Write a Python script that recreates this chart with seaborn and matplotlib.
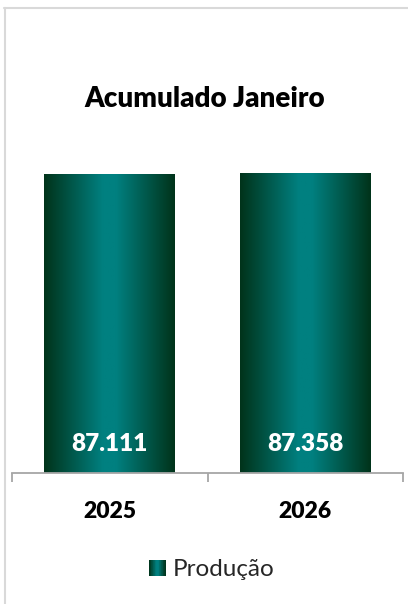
import numpy as np
import pandas as pd
import matplotlib
matplotlib.use("Agg")
import matplotlib.pyplot as plt
from matplotlib.colors import LinearSegmentedColormap
from matplotlib.legend_handler import HandlerBase
from matplotlib.patches import Rectangle
from matplotlib.lines import Line2D
import seaborn as sns

# dados do gráfico
anos = ["2025", "2026"]
producao = [87111, 87358]
rotulos = ["87.111", "87.358"]
titulo = "Acumulado Janeiro"
serie = "Produção"

BORDA = "#00331a"
CENTRO = "#008080"
grad = LinearSegmentedColormap.from_list(
    "barra", [(0.0, BORDA), (0.45, CENTRO), (0.55, CENTRO), (1.0, BORDA)])


class GradientHandler(HandlerBase):
    """Quadradinho da legenda com o mesmo degradê das barras"""

    def create_artists(self, legend, orig_handle, xdescent, ydescent,
                       width, height, fontsize, trans):
        n = 24
        arts = []
        for i in range(n):
            r = Rectangle((-xdescent + i * width / n, -ydescent), width / n * 1.05, height,
                          facecolor=grad((i + 0.5) / n), edgecolor="none",
                          transform=trans)
            arts.append(r)
        return arts


sns.set_theme(style="white")
plt.rcParams["font.family"] = ["Lato", "DejaVu Sans"]

W, H = 408, 604
fig = plt.figure(figsize=(W / 100, H / 100), dpi=100)
ax = fig.add_axes([12 / W, 1 - 473 / H, (403 - 12) / W, (473 - 130) / H])

df = pd.DataFrame({"ano": anos, "producao": producao})
sns.barplot(data=df, x="ano", y="producao", ax=ax, width=0.67,
            color=CENTRO, saturation=1)

# degradê horizontal em cada barra
gradiente = np.linspace(0, 1, 256).reshape(1, -1)
for p in list(ax.patches):
    x0, y0 = p.get_x(), p.get_y()
    w, h = p.get_width(), p.get_height()
    im = ax.imshow(gradiente, cmap=grad, aspect="auto",
                   extent=[x0, x0 + w, y0, y0 + h],
                   zorder=p.get_zorder(), interpolation="bilinear")
    im.set_clip_path(p)
    p.set_facecolor("none")
    p.set_edgecolor("none")

ax.set_xlim(-0.5, 1.5)
ax.set_ylim(0, 100000)

for i, txt in enumerate(rotulos):
    ax.text(i, 6400, txt, ha="center", va="baseline", color="white",
            fontsize=17.5, fontweight="heavy", zorder=5)

for s in ["top", "left", "right"]:
    ax.spines[s].set_visible(False)
ax.spines["bottom"].set_color("#a6a6a6")
ax.spines["bottom"].set_linewidth(1.3)

ax.set_yticks([])
ax.set_xticks(range(len(anos)))
ax.set_xticklabels(anos, fontsize=16.5, fontweight="heavy", color="black")
ax.set_xticks([-0.5, 0.5, 1.5], minor=True)
ax.tick_params(axis="x", which="major", length=0, pad=20)
ax.tick_params(axis="x", which="minor", bottom=True, length=6.5,
               width=1.3, color="#a6a6a6", direction="out")
ax.set_xlabel("")
ax.set_ylabel("")

fig.text(205 / W, 1 - 99 / H, titulo, ha="center", va="center",
         fontsize=20, fontweight="heavy", color="black")

fig.legend(handles=[Rectangle((0, 0), 1, 1)], labels=[serie],
           handler_map={Rectangle: GradientHandler()},
           loc="center", bbox_to_anchor=(212 / W, 1 - 570 / H),
           frameon=False, fontsize=17.5, handlelength=0.66, handleheight=0.6,
           handletextpad=0.3, borderpad=0)

# moldura cinza (topo e esquerda)
fig.add_artist(Line2D([4 / W, 1], [1 - 7.5 / H] * 2, transform=fig.transFigure,
                      color="#d9d9d9", lw=1.5))
fig.add_artist(Line2D([5 / W] * 2, [0, 1 - 7.5 / H], transform=fig.transFigure,
                      color="#d9d9d9", lw=1.5))

fig.savefig("out.png", dpi=100)
